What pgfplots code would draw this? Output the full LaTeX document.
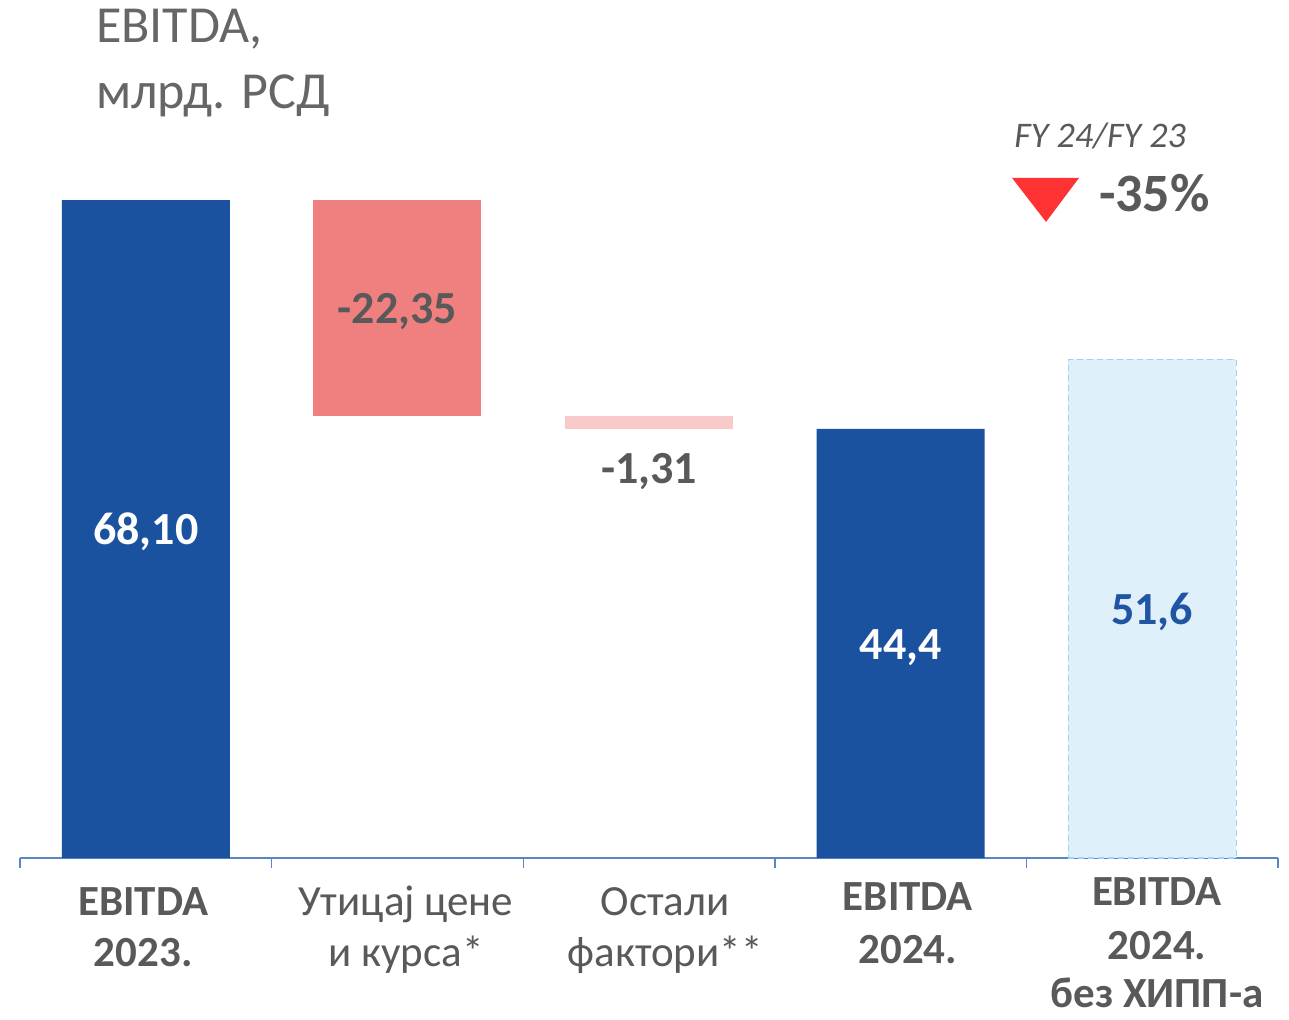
\documentclass[border=0pt]{standalone}
\usepackage{fontspec}
\setmainfont{Carlito}
\usepackage{pgfplots}
\pgfplotsset{compat=1.18}
\definecolor{ebBlue}{HTML}{1A52A0}
\definecolor{lossRed}{HTML}{F08080}
\definecolor{lossPink}{HTML}{F8CACA}
\definecolor{skyFill}{HTML}{E0F0FA}
\definecolor{skyEdge}{HTML}{9DD2F2}
\definecolor{axisBlue}{HTML}{5A86C8}
\definecolor{labelGray}{HTML}{595959}
\definecolor{titleGray}{HTML}{666666}
\definecolor{arrowRed}{HTML}{FF3333}
\definecolor{valBlue}{HTML}{1F55A3}

\begin{document}
\begin{tikzpicture}[lbl/.style={text=labelGray, inner sep=0pt}]
\pgfplotsset{wf/.style={
  scale only axis, width=629pt, height=429pt,
  xmin=-0.5, xmax=4.5, ymin=0, ymax=88.8,
  bar width=84pt, clip=false}}
% floating bars of the bridge
\begin{axis}[wf, ybar stacked, bar shift=0pt, hide axis]
\addplot[fill=none, draw=none] coordinates {(1,45.75) (2,44.44)};
\addplot[fill=lossRed, draw=none] coordinates {(1,22.35) (2,0)};
\addplot[fill=lossPink, draw=none] coordinates {(1,0) (2,1.31)};
\end{axis}

% ground bars, axis line, texts
\begin{axis}[wf, ybar, bar shift=0pt,
  axis x line=bottom, axis y line=none,
  x axis line style={draw=axisBlue, line width=0.7pt, -},
  xtick={-0.5,0.5,1.5,2.5,3.5,4.5}, xticklabels={},
  tick align=outside, major tick length=5pt,
  tick style={draw=axisBlue, line width=0.7pt}]
\addplot[fill=ebBlue, draw=none] coordinates {(0,68.10) (3,44.4)};
\addplot[fill=skyFill, draw=skyEdge, densely dashed, line width=0.6pt] coordinates {(4,51.6)};

\path (rel axis cs:-0.0159,1) rectangle (rel axis cs:1.00874,-0.1888);

% title
\node[lbl, anchor=base west, text=titleGray, font=\fontsize{26}{30}\selectfont] at (axis cs:-0.199,84.4) {EBITDA,};
\node[lbl, anchor=base west, text=titleGray, font=\fontsize{26}{30}\selectfont] at (axis cs:-0.199,77.6) {млрд. РСД};

% change indicator
\node[lbl, anchor=base, font=\fontsize{18}{22}\selectfont\itshape] at (axis cs:3.793,73.5) {FY 24/FY 23};
\fill[arrowRed] (axis cs:3.443,70.38) -- (axis cs:3.709,70.38) -- (axis cs:3.578,65.83) -- cycle;
\node[lbl, anchor=base west, font=\fontsize{27}{31}\selectfont\bfseries] at (axis cs:3.787,66.96) {-35\%};

% values
\node[lbl, text=white, font=\fontsize{23}{27}\selectfont\bfseries] at (axis cs:0,33.8) {68,10};
\node[lbl, font=\fontsize{23}{27}\selectfont\bfseries] at (axis cs:1,56.6) {-22,35};
\node[lbl, font=\fontsize{23}{27}\selectfont\bfseries] at (axis cs:2,40.0) {-1,31};
\node[lbl, text=white, font=\fontsize{23}{27}\selectfont\bfseries] at (axis cs:3,21.8) {44,4};
\node[lbl, text=valBlue, font=\fontsize{23}{27}\selectfont\bfseries] at (axis cs:4,25.5) {51,6};

% category labels
\node[lbl, anchor=base, font=\fontsize{21.5}{26}\selectfont\bfseries] at (axis cs:-0.01,-6.0) {EBITDA};
\node[lbl, anchor=base, font=\fontsize{21.5}{26}\selectfont\bfseries] at (axis cs:-0.01,-11.2) {2023.};
\node[lbl, anchor=base, font=\fontsize{21.5}{26}\selectfont] at (axis cs:1.034,-6.0) {Утицај цене};
\node[lbl, anchor=base, font=\fontsize{21.5}{26}\selectfont] at (axis cs:1.034,-11.2) {и курса*};
\node[lbl, anchor=base, font=\fontsize{21.5}{26}\selectfont] at (axis cs:2.064,-6.0) {Остали};
\node[lbl, anchor=base, font=\fontsize{21.5}{26}\selectfont] at (axis cs:2.064,-11.2) {фактори**};
\node[lbl, anchor=base, font=\fontsize{21.5}{26}\selectfont\bfseries] at (axis cs:3.029,-5.4) {EBITDA};
\node[lbl, anchor=base, font=\fontsize{21.5}{26}\selectfont\bfseries] at (axis cs:3.029,-10.9) {2024.};
\node[lbl, anchor=base, font=\fontsize{21.5}{26}\selectfont\bfseries] at (axis cs:4.019,-4.9) {EBITDA};
\node[lbl, anchor=base, font=\fontsize{21.5}{26}\selectfont\bfseries] at (axis cs:4.019,-10.5) {2024.};
\node[lbl, anchor=base, font=\fontsize{21.5}{26}\selectfont\bfseries] at (axis cs:4.019,-15.5) {без ХИПП-а};
\end{axis}
\end{tikzpicture}
\end{document}
